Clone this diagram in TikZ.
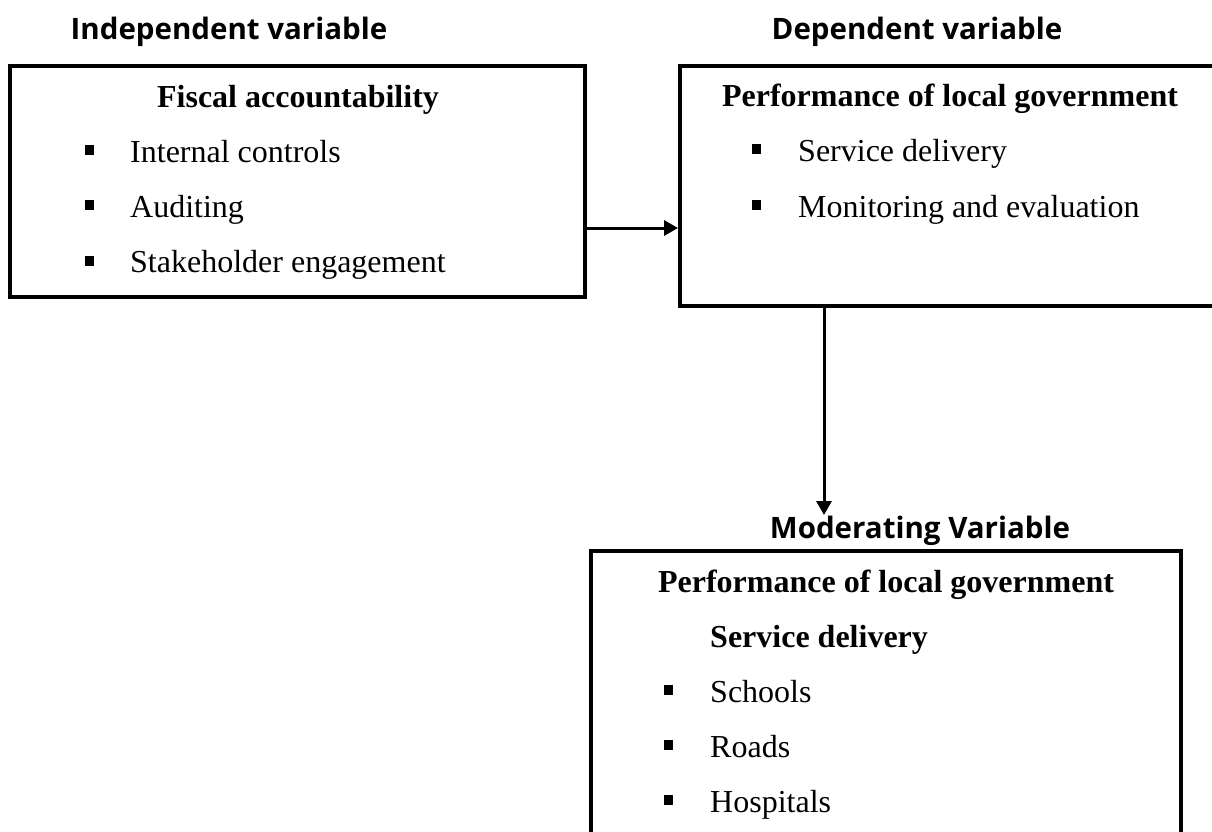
\documentclass[tikz,border=0pt]{standalone}
\usepackage{fontspec}
\setmainfont{Liberation Serif}
\newfontfamily\hdfont{Open Sans}
\usetikzlibrary{arrows.meta}
\begin{document}
\begin{tikzpicture}[x=1pt,y=-1pt,
  box/.style={draw,line width=4pt,minimum width=#1,inner sep=0pt},
  hd/.style={font=\hdfont\bfseries\fontsize{29.5}{34}\selectfont,inner sep=0pt,anchor=base},
  ttl/.style={font=\bfseries\fontsize{32}{38}\selectfont,inner sep=0pt,anchor=base},
  itm/.style={font=\fontsize{32}{38}\selectfont,inner sep=0pt,anchor=base west},
  bul/.style={fill,minimum width=9pt,minimum height=10pt,inner sep=0pt},
  arr/.style={line width=3pt,-{Triangle[length=14pt,width=15pt]}}]
\useasboundingbox (0,0) rectangle (1212,831);
\clip (0,0) rectangle (1212,831);
% boxes
\node[box=575pt,minimum height=231pt] (b1) at (297.5,181.5) {};
\node[box=560pt,minimum height=240pt] (b2) at (960,186) {};
\node[box=590pt,minimum height=330pt] (b3) at (886,716) {};
% headings
\node[hd] (h1) at (229,39) {Independent variable};
\node[hd] (h2) at (917,39) {Dependent variable};
\node[hd] (h3) at (920,538) {Moderating Variable};
% box 1
\node[ttl] (t1) at (298,107) {Fiscal accountability};
\node[bul] (p11) at (89,150) {};
\node[itm] (i11) at (130,162) {Internal controls};
\node[bul] (p12) at (89,205) {};
\node[itm] (i12) at (130,217) {Auditing};
\node[bul] (p13) at (89,261) {};
\node[itm] (i13) at (130,272) {Stakeholder engagement};
% box 2
\node[ttl] (t2) at (950,106) {Performance of local government};
\node[bul] (p21) at (756,149) {};
\node[itm] (i21) at (798,161) {Service delivery};
\node[bul] (p22) at (756,205) {};
\node[itm] (i22) at (798,217) {Monitoring and evaluation};
% box 3
\node[ttl] (t3) at (886,592) {Performance of local government};
\node[ttl,anchor=base west] (s3) at (710,647) {Service delivery};
\node[bul] (p31) at (668,690) {};
\node[itm] (i31) at (710,702) {Schools};
\node[bul] (p32) at (668,745) {};
\node[itm] (i32) at (710,757) {Roads};
\node[bul] (p33) at (668,800) {};
\node[itm] (i33) at (710,812) {Hospitals};
% arrows
\draw[arr] (b1.east |- 0,228) -- (b2.west |- 0,228);
\draw[arr] (b2.south -| 824,0) -- (824,515);
\end{tikzpicture}
\end{document}
